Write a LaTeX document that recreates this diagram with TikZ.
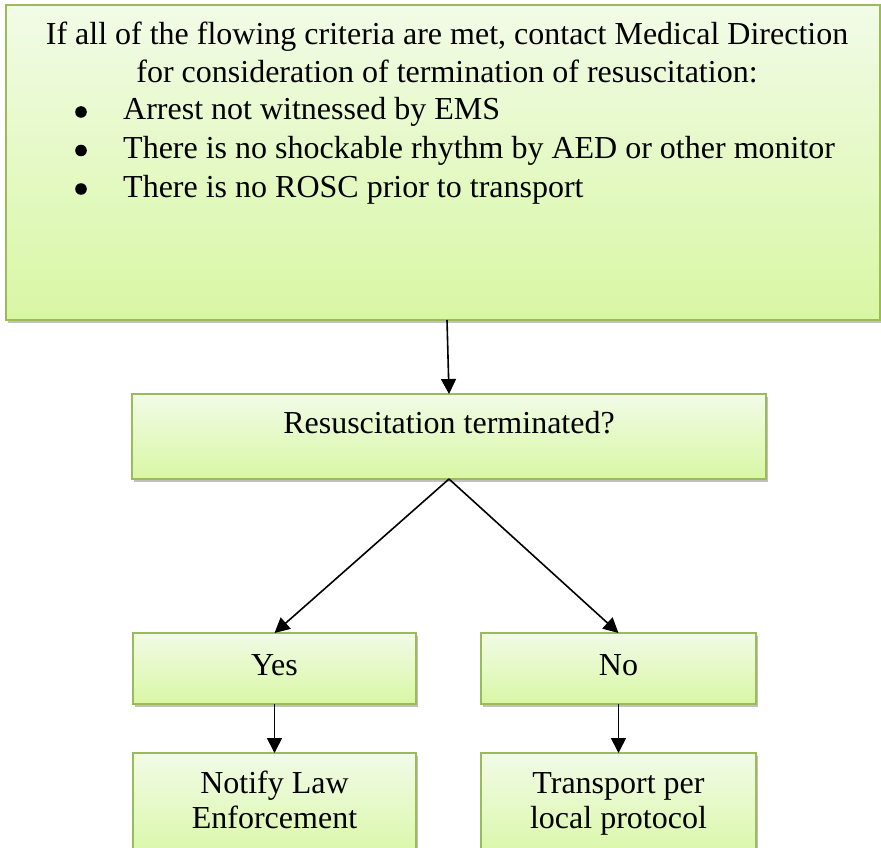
\documentclass[tikz,border=0pt]{standalone}
\usepackage{fontspec}
\setmainfont{Liberation Serif}
\usetikzlibrary{shadows,arrows.meta,calc}
\definecolor{bord}{HTML}{9BBB59}
\definecolor{topc}{HTML}{F2FBE7}
\definecolor{botc}{HTML}{D8F7A4}
\tikzset{
  box/.style={draw=bord, line width=1.6pt, top color=topc, bottom color=botc,
    drop shadow={shadow xshift=2pt, shadow yshift=-2.5pt, opacity=0.35, fill=black!70},
    inner sep=0pt, outer sep=0pt},
  txt/.style={font=\fontsize{32}{38.5}\selectfont, inner sep=0pt},
  bul/.style={fill=black},
  arr/.style={line width=1.6pt, -{Triangle[length=15pt,width=15pt]}}
}
\begin{document}
\begin{tikzpicture}[x=1pt,y=1pt]
\useasboundingbox (0,0) rectangle (881,-848);
\clip (0,0) rectangle (881,-848);
\node[box, minimum width=874pt, minimum height=315pt] (top) at (443,-162.5) {};
\node[box, minimum width=634pt, minimum height=85pt] (res) at (449,-436.5) {};
\node[box, minimum width=283pt, minimum height=71pt] (yes) at (274.5,-668.5) {};
\node[box, minimum width=275pt, minimum height=71pt] (no) at (618.5,-668.5) {};
\node[box, minimum width=283pt, minimum height=110pt] (notify) at (274.5,-808) {};
\node[box, minimum width=275pt, minimum height=110pt] (transport) at (618.5,-808) {};
% texts
\node[txt, anchor=base] (h1) at (447,-45) {If all of the flowing criteria are met, contact Medical Direction};
\node[txt, anchor=base] (h2) at (447,-83) {for consideration of termination of resuscitation:};
\fill[bul] (81,-112) circle (5.8);
\node[txt, anchor=base west] (t1) at (123,-120) {Arrest not witnessed by EMS};
\fill[bul] (81,-150.5) circle (5.8);
\node[txt, anchor=base west] (t2) at (123,-158.5) {There is no shockable rhythm by AED or other monitor};
\fill[bul] (81,-189) circle (5.8);
\node[txt, anchor=base west] (t3) at (123,-197) {There is no ROSC prior to transport};
\node[txt, anchor=base] (rest) at ($(res.north)+(0,-39)$) {Resuscitation terminated?};
\node[txt, anchor=base] (yest) at ($(yes.north)+(0,-42)$) {Yes};
\node[txt, anchor=base] (not) at ($(no.north)+(0,-42)$) {No};
\node[txt, anchor=base] (n1) at ($(notify.north)+(0,-40)$) {Notify Law};
\node[txt, anchor=base] (n2) at ($(notify.north)+(0,-75)$) {Enforcement};
\node[txt, anchor=base] (p1) at ($(transport.north)+(0,-40)$) {Transport per};
\node[txt, anchor=base] (p2) at ($(transport.north)+(0,-75)$) {local protocol};
% connectors
\draw[arr] ([xshift=4pt]top.south) -- (res.north);
\draw[arr] (res.south) -- (yes.north);
\draw[arr] (res.south) -- (no.north);
\draw[arr] (yes.south) -- (notify.north);
\draw[arr] (no.south) -- (transport.north);
\end{tikzpicture}
\end{document}
